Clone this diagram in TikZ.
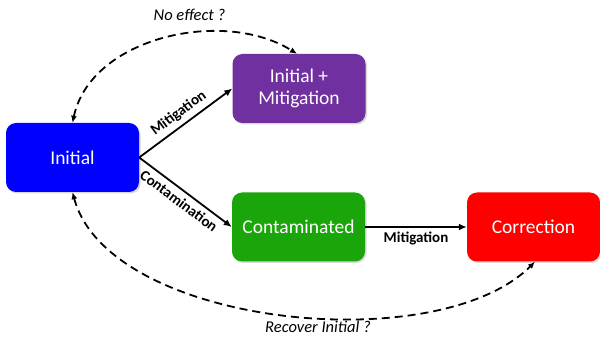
\documentclass[tikz,border=0pt]{standalone}
\usepackage{fontspec}
\setmainfont{Carlito}
\usepackage{tikz}
\usetikzlibrary{shadows}
\usetikzlibrary{positioning}
\usetikzlibrary{arrows.meta}
\definecolor{initblue}{RGB}{0,0,255}
\definecolor{mitpurple}{RGB}{112,48,160}
\definecolor{contgreen}{RGB}{26,165,10}
\definecolor{corrred}{RGB}{255,0,0}
\tikzstyle{state}=[rectangle,rounded corners=10pt,minimum width=133pt,minimum height=69pt,inner sep=0pt,text=white,align=center,font=\fontsize{19.5}{22}\selectfont,drop shadow={opacity=0.3,shadow xshift=1.5pt,shadow yshift=-1.5pt}]
\tikzstyle{edge} = [draw,line width=1.8pt,-{Latex[length=8pt,width=7pt]}]
\tikzstyle{dashededge} = [draw,line width=1.8pt,dash pattern=on 8pt off 5pt,{Latex[length=7pt,width=6pt]}-{Latex[length=7pt,width=6pt]}]
\tikzstyle{weight} = [font=\fontsize{15}{17}\selectfont\bfseries,sloped,inner sep=4.5pt]
\tikzstyle{question} = [font=\fontsize{16.5}{20}\selectfont\itshape]

\begin{document}
\begin{tikzpicture}[x=1pt,y=1pt]
    \useasboundingbox (0,0) rectangle (600,337);

    % First we draw the states
    \foreach \pos/\name/\label/\col in {{(72.5,179.5)/init/Initial/initblue}, {(299,248.5)/initmit/{Initial +\\Mitigation}/mitpurple}, {(298.5,110)/cont/Contaminated/contgreen}, {(533.5,110)/corr/Correction/corrred}}
        \node[state, fill=\col] (\name) at \pos {\label};

    % Connect states with edges and draw labels
  \foreach \source/ \dest /\weight/\where in {init/initmit/Mitigation/above, init/cont/Contamination/below, cont/corr/Mitigation/below}
          \path[edge] (\source.east) -- node[weight, \where] {\weight} (\dest.west);

    % Open questions
  \path[dashededge] (init.north) to[out=78, in=148, looseness=0.95] ([xshift=-2pt]initmit.north);
  \path[dashededge] (init.south) to[out=-75, in=225, looseness=0.76] ([xshift=1.5pt]corr.south);
\node[question] (noeffect) at (189.5, 322) {No effect ?};
\node[question] (recover) at (318, 10) {Recover Initial ?};

   \end{tikzpicture}
\end{document}
